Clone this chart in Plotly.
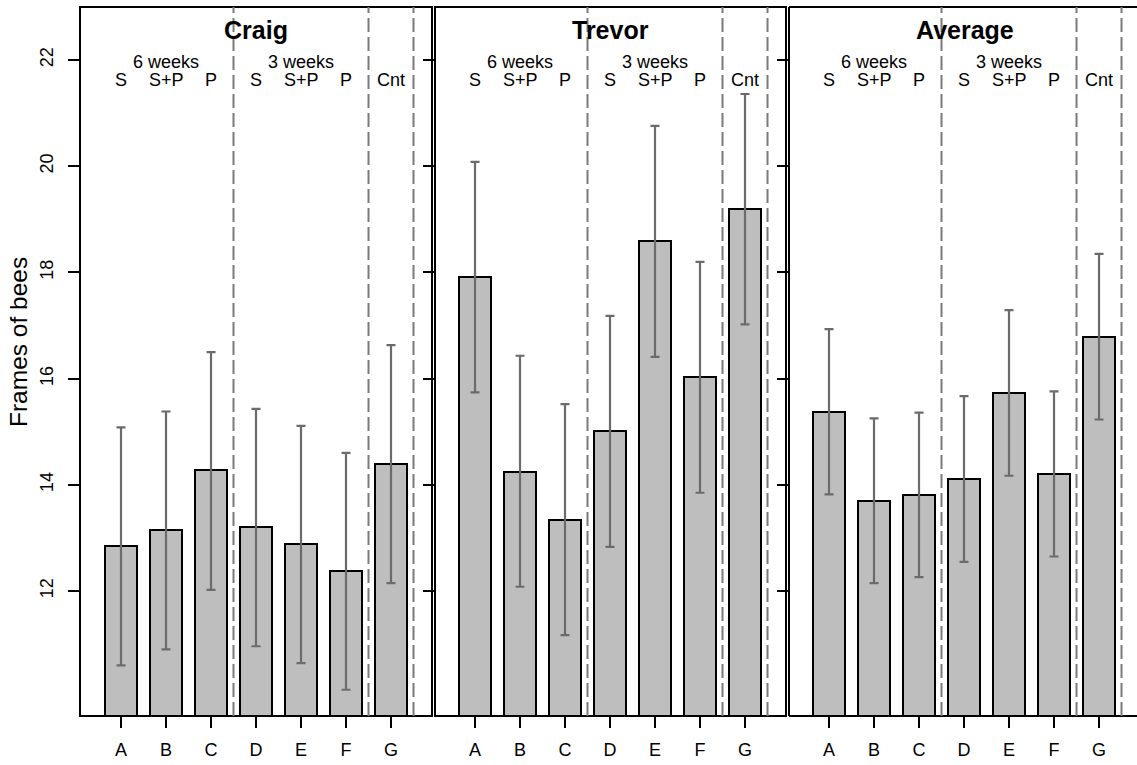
import plotly.graph_objects as go

categories = ["A", "B", "C", "D", "E", "F", "G"]
treatments = ["S", "S+P", "P", "S", "S+P", "P", "Cnt"]
group_names = ["6 weeks", "3 weeks"]
group_sizes = [3, 3, 1]
panel_titles = ["Craig", "Trevor", "Average"]

craig_mean = [12.85, 13.14, 14.27, 13.20, 12.88, 12.37, 14.39]
craig_upper = [15.08, 15.38, 16.50, 15.43, 15.11, 14.60, 16.63]
craig_lower = [10.60, 10.90, 12.02, 10.96, 10.64, 10.14, 12.15]

trevor_mean = [17.92, 14.25, 13.34, 15.01, 18.59, 16.03, 19.19]
trevor_upper = [20.08, 16.43, 15.52, 17.18, 20.76, 18.20, 21.36]
trevor_lower = [15.74, 12.08, 11.17, 12.83, 16.41, 13.85, 17.02]

average_mean = [15.37, 13.69, 13.80, 14.10, 15.72, 14.20, 16.79]
average_upper = [16.93, 15.25, 15.36, 15.67, 17.29, 15.76, 18.35]
average_lower = [13.82, 12.15, 12.26, 12.55, 14.17, 12.65, 15.23]

y_ticks = [12, 14, 16, 18, 20, 22]

panels = [
    (craig_mean, craig_upper, craig_lower),
    (trevor_mean, trevor_upper, trevor_lower),
    (average_mean, average_upper, average_lower),
]

W, H = 1137, 765
ML, MR, MT, MB = 80, 0, 7, 49
PW = W - ML - MR
PH = H - MT - MB

def px_x(p):
    return (p - ML) / PW

def px_y(p):
    return (H - MB - p) / PH

FONT = "Liberation Sans, Arial, sans-serif"
x_pos = list(range(len(categories)))

# separator positions from the group structure
seps = []
acc = 0
for s in group_sizes:
    acc += s
    seps.append(acc - 0.5)
group_centers = []
acc = 0
for s in group_sizes[:2]:
    group_centers.append(acc + (s - 1) / 2)
    acc += s

domains = [(px_x(80), px_x(432)), (px_x(435), px_x(786)), (px_x(789), 1.0)]
xranges = [(-0.911, 6.911), (-0.889, 6.911), (-0.889, 6.844)]
yrange = [9.646, 22.998]

fig = go.Figure()
layout = dict(
    width=W, height=H,
    margin=dict(l=ML, r=MR, t=MT, b=MB, pad=0),
    paper_bgcolor="white", plot_bgcolor="white",
    showlegend=False,
    font=dict(family=FONT, color="black"),
    bargap=0,
)
shapes = []
annotations = []

for i, (mean, upper, lower) in enumerate(panels):
    n = "" if i == 0 else str(i + 1)
    xa, ya = "x" + n, "y" + n
    fig.add_trace(go.Bar(
        x=x_pos, y=mean, width=0.71,
        marker=dict(color="#BEBEBE", line=dict(color="black", width=2)),
        error_y=dict(type="data", symmetric=False,
                     array=[u - m for u, m in zip(upper, mean)],
                     arrayminus=[m - l for m, l in zip(mean, lower)],
                     color="#6b6b6b", thickness=2.2, width=4.5),
        xaxis=xa, yaxis=ya, hoverinfo="skip",
    ))
    layout["xaxis" + n] = dict(
        domain=list(domains[i]), range=list(xranges[i]), anchor=ya,
        tickvals=x_pos, ticktext=categories, ticks="outside", ticklen=11,
        tickwidth=2, tickcolor="black", showgrid=False, zeroline=False,
        showline=False, tickfont=dict(size=18, family=FONT),
        ticklabelstandoff=6,
    )
    layout["yaxis" + n] = dict(
        range=yrange, anchor=xa, tickvals=y_ticks, ticks="outside",
        ticklen=11, tickwidth=2, tickcolor="black", showgrid=False,
        zeroline=False, showline=False, showticklabels=(i == 0),
        tickangle=-90, tickfont=dict(size=18, family=FONT),
        ticklabelstandoff=8,
    )
    # panel frame
    if i < 2:
        shapes.append(dict(type="rect", xref=xa + " domain", yref=ya + " domain",
                           x0=0, x1=1, y0=0, y1=1,
                           line=dict(color="black", width=2), layer="above"))
    else:
        for (x0, y0, x1, y1) in [(0, 0, 0, 1), (0, 1, 1.02, 1), (0, 0, 1.02, 0)]:
            shapes.append(dict(type="line", xref=xa + " domain", yref=ya + " domain",
                               x0=x0, x1=x1, y0=y0, y1=y1,
                               line=dict(color="black", width=2), layer="above"))
    for s in seps:
        shapes.append(dict(type="line", xref=xa, yref=ya + " domain",
                           x0=s, x1=s, y0=0, y1=1,
                           line=dict(color="#7a7a7a", width=2, dash="14px,5px"),
                           layer="above"))
    # titles and labels
    annotations.append(dict(text="<b>%s</b>" % panel_titles[i], xref=xa, yref="paper",
                            x=(xranges[i][0] + 6.911) / 2,
                            y=px_y(30), showarrow=False,
                            font=dict(size=25, family=FONT), xanchor="center", yanchor="middle"))
    for g, gc in zip(group_names, group_centers):
        annotations.append(dict(text=g, xref=xa, yref="paper", x=gc, y=px_y(62),
                                showarrow=False, font=dict(size=18, family=FONT),
                                xanchor="center", yanchor="middle"))
    for xp, t in zip(x_pos, treatments):
        annotations.append(dict(text=t, xref=xa, yref="paper", x=xp, y=px_y(80),
                                showarrow=False, font=dict(size=18, family=FONT),
                                xanchor="center", yanchor="middle"))

annotations.append(dict(text="Frames of bees", xref="paper", yref="paper",
                        x=px_x(18), y=px_y(342), textangle=-90, showarrow=False,
                        font=dict(size=24.5, family=FONT), xanchor="center", yanchor="middle"))

layout["shapes"] = shapes
layout["annotations"] = annotations
fig.update_layout(**layout)
fig.write_html("out.html")
